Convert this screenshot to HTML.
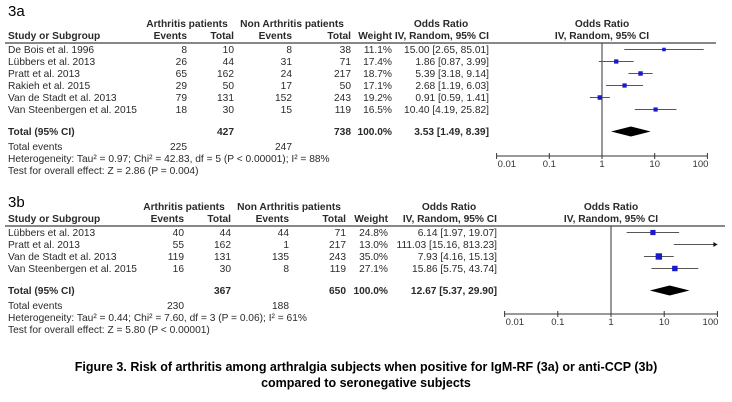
<!DOCTYPE html>
<html><head><meta charset="utf-8">
<style>
html,body{margin:0;padding:0;background:#fff;}
svg{display:block;font-family:"Liberation Sans",sans-serif;}
</style></head>
<body>
<svg id="fig" width="732" height="402" viewBox="0 0 732 402" xmlns="http://www.w3.org/2000/svg">
<text x="8" y="16" font-size="15">3a</text>
<text x="8" y="207" font-size="15">3b</text>
<text x="366" y="371" font-size="12.5" font-weight="bold" text-anchor="middle">Figure 3. Risk of arthritis among arthralgia subjects when positive for IgM-RF (3a) or anti-CCP (3b)</text>
<text x="366" y="387" font-size="12.5" font-weight="bold" text-anchor="middle">compared to seronegative subjects</text>
</svg>
<script>
const studiesA = ["De Bois et al. 1996","Lübbers et al. 2013","Pratt et al. 2013","Rakieh et al. 2015","Van de Stadt et al. 2013","Van Steenbergen et al. 2015"];
const evA1 = [8,26,65,29,79,18];
const totA1 = [10,44,162,50,131,30];
const evA2 = [8,31,24,17,152,15];
const totA2 = [38,71,217,50,243,119];
const wA = [11.1,17.4,18.7,17.1,19.2,16.5];
const orA = [15.00,1.86,5.39,2.68,0.91,10.40];
const loA = [2.65,0.87,3.18,1.19,0.59,4.19];
const hiA = [85.01,3.99,9.14,6.03,1.41,25.82];
const totalA = [427,738,225,247];
const pooledA = [3.53,1.49,8.39];
const hetA = "Heterogeneity: Tau² = 0.97; Chi² = 42.83, df = 5 (P < 0.00001); I² = 88%";
const testA = "Test for overall effect: Z = 2.86 (P = 0.004)";

const studiesB = ["Lübbers et al. 2013","Pratt et al. 2013","Van de Stadt et al. 2013","Van Steenbergen et al. 2015"];
const evB1 = [40,55,119,16];
const totB1 = [44,162,131,30];
const evB2 = [44,1,135,8];
const totB2 = [71,217,243,119];
const wB = [24.8,13.0,35.0,27.1];
const orB = [6.14,111.03,7.93,15.86];
const loB = [1.97,15.16,4.16,5.75];
const hiB = [19.07,813.23,15.13,43.74];
const totalB = [367,650,230,188];
const pooledB = [12.67,5.37,29.90];
const hetB = "Heterogeneity: Tau² = 0.44; Chi² = 7.60, df = 3 (P = 0.06); I² = 61%";
const testB = "Test for overall effect: Z = 5.80 (P < 0.00001)";

const tickVals = [0.01,0.1,1,10,100];
const tickLabels = ["0.01","0.1","1","10","100"];

const svg = document.getElementById('fig');
const NS = "http://www.w3.org/2000/svg";
function mk(tag, attrs, txt){
  const e = document.createElementNS(NS, tag);
  for (const k in attrs) e.setAttribute(k, attrs[k]);
  if (txt !== undefined) e.textContent = txt;
  svg.appendChild(e);
  return e;
}
function t(x,y,s,anchor,bold,name){
  const e = mk('text',{x:x,y:y,'font-size':10.2,'text-anchor':anchor||'start','font-weight':bold?'bold':'normal',fill:'#2a2a2a'},s);
  
  
  return e;
}
function f2(v){return v.toFixed(2);}

function panel(P){
  const c = P.cols;
  t(c[0],P.top,"Arthritis patients","middle",true,'arthritis-group-header');
  t(c[2],P.top,"Non Arthritis patients","middle",true,'non-arthritis-group-header');
  t(c[5]-48,P.top,"Odds Ratio","middle",true,'or-column-header');
  t(P.one,P.top,"Odds Ratio","middle",true,'or-plot-header');
  const hy = P.top+12;
  t(8,hy,"Study or Subgroup","start",true,'study-header');
  t(c[0],hy,"Events","end",true,'events-header');
  t(c[1],hy,"Total","end",true,'total-header');
  t(c[2],hy,"Events","end",true,'events-header');
  t(c[3],hy,"Total","end",true,'total-header');
  t(c[4],hy,"Weight","end",true,'weight-header');
  t(c[5],hy,"IV, Random, 95% CI","end",true,'or-ci-header');
  t(P.one,hy,"IV, Random, 95% CI","middle",true,'or-plot-subheader');
  const ln = mk('line',{x1:5,x2:P.lineEnd,y1:hy+4,y2:hy+4,stroke:'#777','stroke-width':1.8});
  
  
  const X = v => P.one + P.dec*Math.log10(v);
  const xmin = X(0.01), xmax = X(100);
  const vl = mk('line',{x1:P.one,x2:P.one,y1:hy+4,y2:P.axisY,stroke:'#333','stroke-width':1});
  
  
  P.studies.forEach((s,i)=>{
    const y = hy + 14 + i*12;
    t(8,y,s,'start',false,'study-name');
    t(c[0],y,P.ev1[i],'end',false,'events-value');
    t(c[1],y,P.tot1[i],'end',false,'total-value');
    t(c[2],y,P.ev2[i],'end',false,'events-value');
    t(c[3],y,P.tot2[i],'end',false,'total-value');
    t(c[4],y,P.w[i].toFixed(1)+"%",'end',false,'weight-value');
    t(c[5],y,f2(P.or[i])+" ["+f2(P.lo[i])+", "+f2(P.hi[i])+"]",'end',false,'or-ci-value');
    const cy = y-3.5;
    const x1 = Math.max(xmin,X(P.lo[i])), x2 = Math.min(xmax,X(P.hi[i]));
    const ci = mk('line',{x1:x1,x2:x2,y1:cy,y2:cy,stroke:'#555','stroke-width':1});
    
    
    if (X(P.hi[i])>xmax){
      const ar = mk('polygon',{points:`${xmax},${cy} ${xmax-4},${cy-2.5} ${xmax-4},${cy+2.5}`,fill:'#111'});
      
      
    }
    const sz = 2.2 + P.w[i]*0.12;
    const cx = X(P.or[i]);
    if (cx<=xmax){
      const sq = mk('rect',{x:cx-sz/2,y:cy-sz/2,width:sz,height:sz,fill:'#1a1acc'});
      
      
    }
  });
  const ty = hy + 14 + P.studies.length*12 + 10;
  t(8,ty,"Total (95% CI)",'start',true,'total-label');
  t(c[1],ty,P.tot[0],'end',true,'total-arthritis');
  t(c[3],ty,P.tot[1],'end',true,'total-non-arthritis');
  t(c[4],ty,"100.0%",'end',true,'total-weight');
  t(c[5],ty,f2(P.pool[0])+" ["+f2(P.pool[1])+", "+f2(P.pool[2])+"]",'end',true,'pooled-or');
  const dy = ty-3.5;
  const dm = mk('polygon',{points:`${X(P.pool[1])},${dy} ${X(P.pool[0])},${dy-5} ${X(P.pool[2])},${dy} ${X(P.pool[0])},${dy+5}`,fill:'#000'});
  
  
  t(8,ty+15,"Total events",'start',false,'total-events-label');
  t(c[0],ty+15,P.tot[2],'end',false,'total-events-arthritis');
  t(c[2],ty+15,P.tot[3],'end',false,'total-events-non-arthritis');
  t(8,ty+27,P.het,'start',false,'heterogeneity-text');
  t(8,ty+39,P.test,'start',false,'overall-effect-text');
  const ax = mk('line',{x1:xmin,x2:xmax,y1:P.axisY,y2:P.axisY,stroke:'#333','stroke-width':1});
  
  
  tickVals.forEach((v,i)=>{
    const tk = mk('line',{x1:X(v),x2:X(v),y1:P.axisY-3,y2:P.axisY+3,stroke:'#333','stroke-width':1});
    
    
    const anc = i===0?'start':(i===tickVals.length-1?'end':'middle');
    const lx = i===0?X(v)+1:(i===tickVals.length-1?X(v)+1:X(v));
    const tl = mk('text',{x:lx,y:P.axisY+11,'font-size':9.5,'text-anchor':anc,fill:'#333'},tickLabels[i]);
    
    
  });
}

panel({top:27,cols:[187,234,292,351,392,489],one:602,dec:52.7,axisY:156,lineEnd:716,
  studies:studiesA,ev1:evA1,tot1:totA1,ev2:evA2,tot2:totA2,w:wA,or:orA,lo:loA,hi:hiA,tot:totalA,pool:pooledA,het:hetA,test:testA});
panel({top:210,cols:[184,231,289,346,388,497],one:611,dec:53.2,axisY:314,lineEnd:725,
  studies:studiesB,ev1:evB1,tot1:totB1,ev2:evB2,tot2:totB2,w:wB,or:orB,lo:loB,hi:hiB,tot:totalB,pool:pooledB,het:hetB,test:testB});
</script>
</body></html>
